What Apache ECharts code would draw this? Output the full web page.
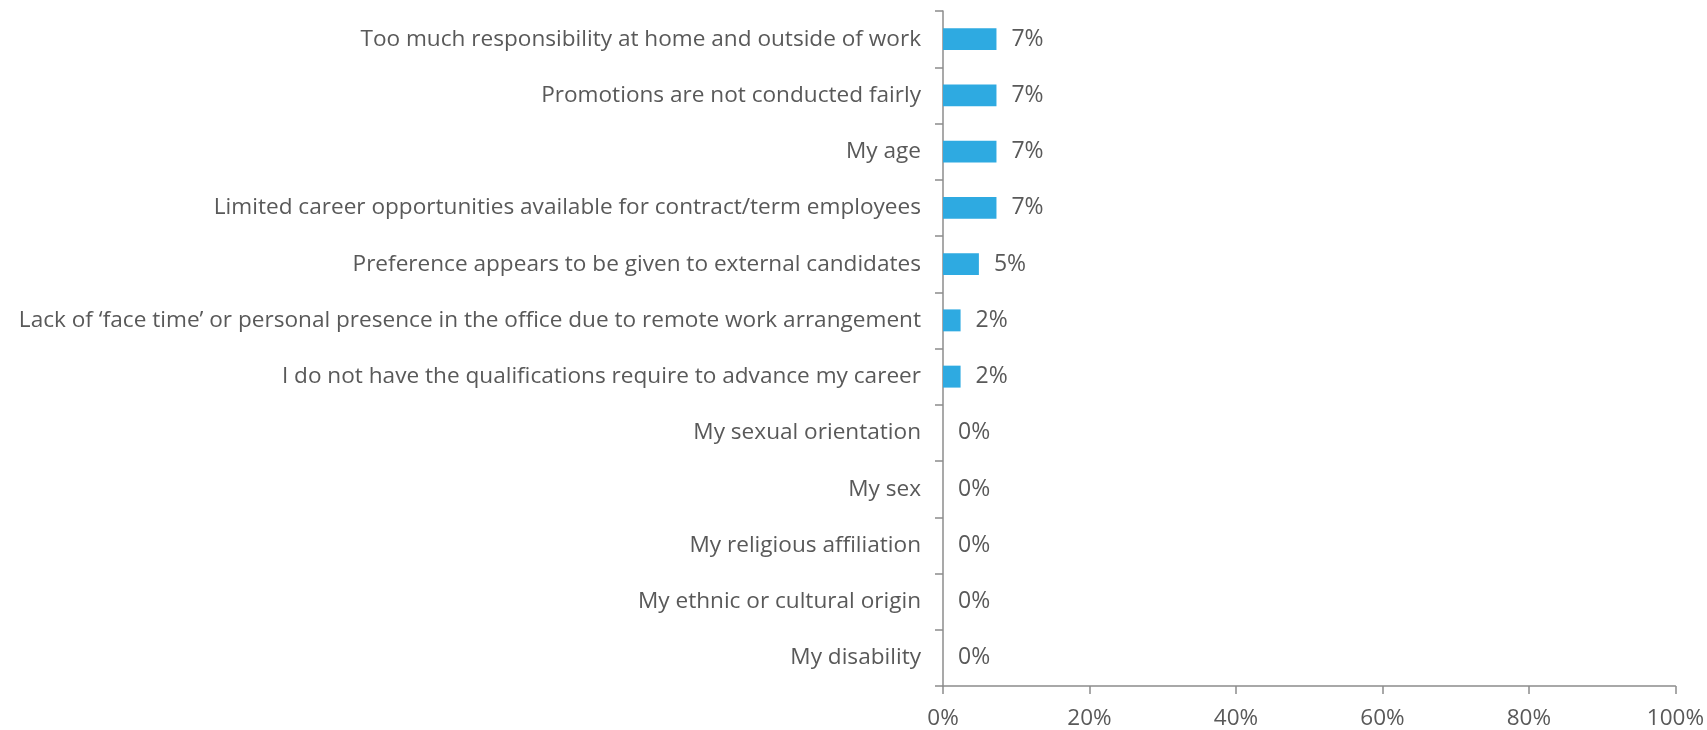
<!DOCTYPE html>
<html>
<head>
<meta charset="utf-8">
<script src="https://cdn.jsdelivr.net/npm/echarts@6/dist/echarts.min.js"></script>
<style>
html,body{margin:0;padding:0;background:#fff;}
#chart{width:1707px;height:730px;}
</style>
</head>
<body>
<div id="chart"></div>
<script>
const categories = [
  "Too much responsibility at home and outside of work",
  "Promotions are not conducted fairly",
  "My age",
  "Limited career opportunities available for contract/term employees",
  "Preference appears to be given to external candidates",
  "Lack of \u2018face time\u2019 or personal presence in the office due to remote work arrangement",
  "I do not have the qualifications require to advance my career",
  "My sexual orientation",
  "My sex",
  "My religious affiliation",
  "My ethnic or cultural origin",
  "My disability"
];
const values = [7.3, 7.3, 7.3, 7.3, 4.9, 2.4, 2.4, 0, 0, 0, 0, 0];
const xTicks = [0, 20, 40, 60, 80, 100];

const chart = echarts.init(document.getElementById('chart'));
const font = "'Open Sans', 'Noto Sans', sans-serif";
chart.setOption({
  animation: false,
  grid: {left: 943, right: 28, top: 11, bottom: 41, containLabel: false},
  xAxis: {
    type: 'value', min: xTicks[0], max: xTicks[xTicks.length-1], interval: 20,
    axisLine: {show: true, lineStyle: {color: '#8c8c8c', width: 1.5}},
    axisTick: {show: true, length: 8, lineStyle: {color: '#8c8c8c', width: 1.5}},
    splitLine: {show: false},
    axisLabel: {formatter: v => v + '%', color: '#595959', fontSize: 22.5, fontFamily: font, margin: 21}
  },
  yAxis: {
    type: 'category', data: categories, inverse: true,
    axisLine: {show: true, lineStyle: {color: '#8c8c8c', width: 1.5}},
    axisTick: {show: true, length: 8, lineStyle: {color: '#8c8c8c', width: 1.5}},
    axisLabel: {color: '#595959', fontSize: 22.6, fontFamily: font, margin: 22}
  },
  series: [{
    type: 'bar', data: values, barCategoryGap: '61%',
    itemStyle: {color: '#2eaae1'},
    label: {show: true, position: 'right', distance: 15, formatter: p => Math.round(p.value) + '%',
      color: '#595959', fontSize: 23, fontFamily: font}
  }]
});
</script>
</body>
</html>
